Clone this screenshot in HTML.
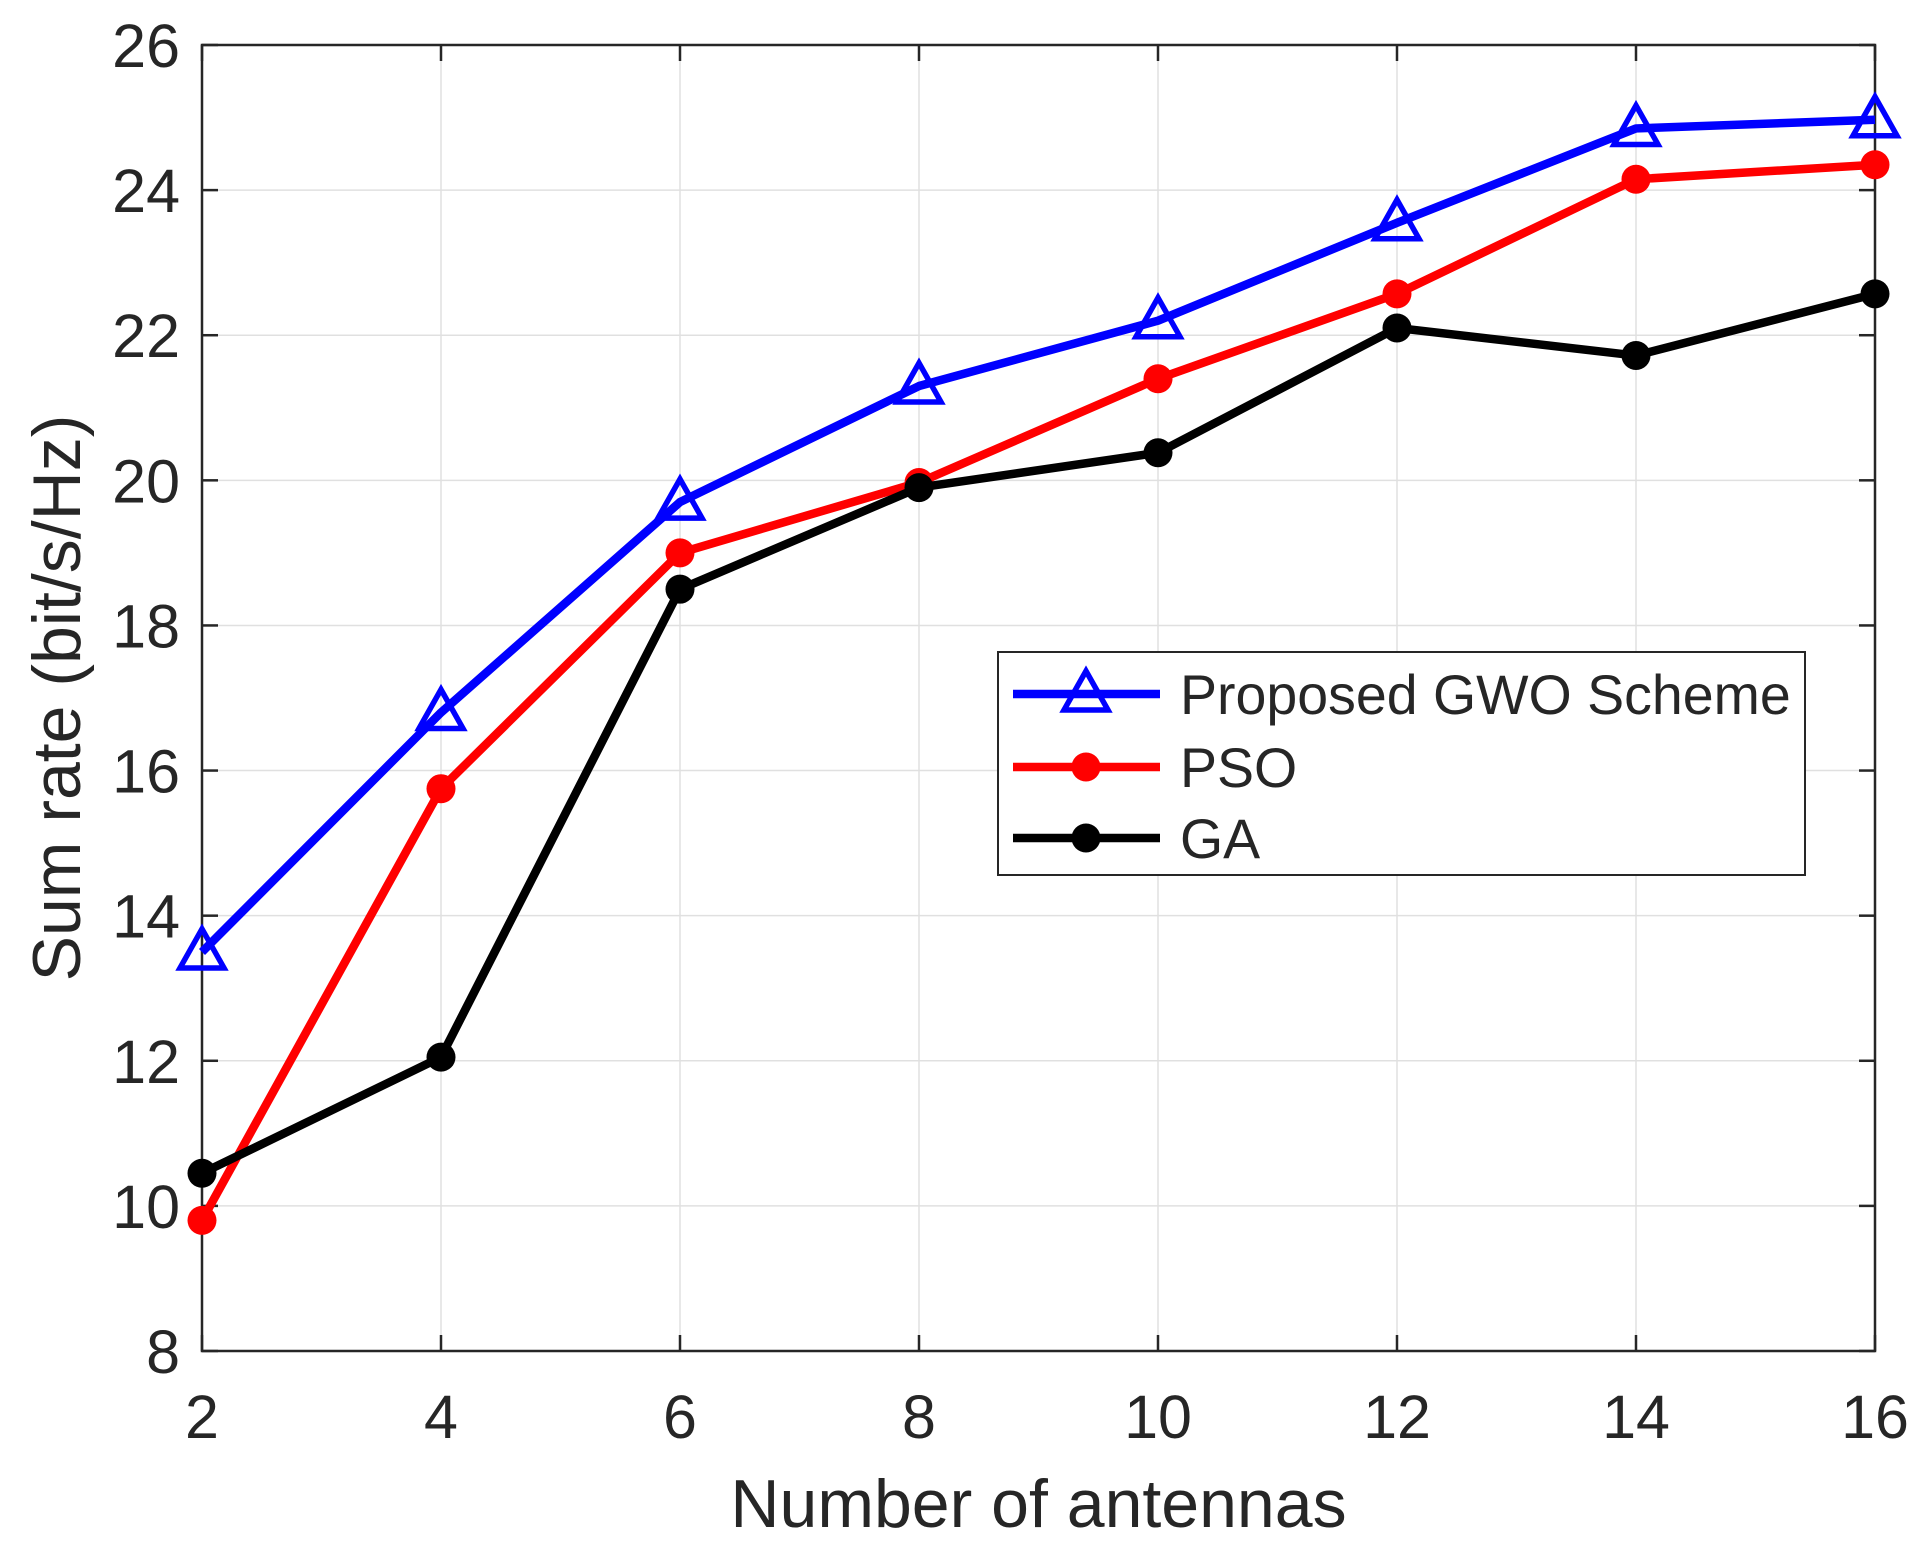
<!DOCTYPE html>
<html><head><meta charset="utf-8"><style>
html,body{margin:0;padding:0;background:#fff}
svg{display:block;font-family:"Liberation Sans",Arial,sans-serif}
</style></head><body>
<svg id="chart" width="1924" height="1560" viewBox="0 0 1924 1560"></svg>
<script>
const xCats=[2,4,6,8,10,12,14,16];
const gwo=[13.5,16.8,19.7,21.3,22.2,23.55,24.85,24.97];
const pso=[9.8,15.75,19.0,19.97,21.4,22.57,24.15,24.35];
const ga=[10.45,12.05,18.5,19.9,20.38,22.1,21.72,22.57];
const yTicks=[8,10,12,14,16,18,20,22,24,26];
const xTicks=[2,4,6,8,10,12,14,16];
const L=202,R=1875,T=45,B=1351;
const NS="http://www.w3.org/2000/svg";
const svg=document.getElementById('chart');
function X(v){return L+(v-2)/(16-2)*(R-L);}
function Y(v){return B-(v-8)/(26-8)*(B-T);}
function el(t,a,p){const e=document.createElementNS(NS,t);for(const k in a)e.setAttribute(k,a[k]);(p||svg).appendChild(e);return e;}
const grid=el('g',{});


xTicks.forEach(v=>{el('line',{x1:X(v),x2:X(v),y1:T,y2:B,stroke:'#e0e0e0','stroke-width':1.5},grid);});
yTicks.forEach(v=>{el('line',{x1:L,x2:R,y1:Y(v),y2:Y(v),stroke:'#e0e0e0','stroke-width':1.5},grid);});
const ax=el('g',{});


el('rect',{x:L,y:T,width:R-L,height:B-T,fill:'none',stroke:'#262626','stroke-width':2.5},ax);
xTicks.forEach(v=>{
 el('line',{x1:X(v),x2:X(v),y1:B,y2:B-16,stroke:'#262626','stroke-width':2.5},ax);
 el('line',{x1:X(v),x2:X(v),y1:T,y2:T+16,stroke:'#262626','stroke-width':2.5},ax);
 const t=el('text',{x:X(v),y:B+87,'text-anchor':'middle','font-size':61,fill:'#262626'},ax);t.textContent=v;
 
 
});
yTicks.forEach(v=>{
 el('line',{x1:L,x2:L+16,y1:Y(v),y2:Y(v),stroke:'#262626','stroke-width':2.5},ax);
 el('line',{x1:R,x2:R-16,y1:Y(v),y2:Y(v),stroke:'#262626','stroke-width':2.5},ax);
 const t=el('text',{x:L-22,y:Y(v)+22,'text-anchor':'end','font-size':61,fill:'#262626'},ax);t.textContent=v;
 
 
});
const xl=el('text',{x:(L+R)/2,y:1527,'text-anchor':'middle','font-size':68,fill:'#262626'});xl.textContent='Number of antennas';


const yl=el('text',{x:0,y:0,'text-anchor':'middle','font-size':68,fill:'#262626',transform:'translate(80,698) rotate(-90)'});yl.textContent='Sum rate (bit/s/Hz)';


function tri(g,cx,cy,c){el('polygon',{points:`${cx},${cy-23} ${cx-22},${cy+16} ${cx+22},${cy+16}`,fill:'none',stroke:c,'stroke-width':5.5},g);}
function circ(g,cx,cy,c){el('circle',{cx:cx,cy:cy,r:14.5,fill:c},g);}
function series(vals,c,mk,name){
 const g=el('g',{});
 
 
 el('polyline',{points:vals.map((v,i)=>X(xCats[i])+','+Y(v)).join(' '),fill:'none',stroke:c,'stroke-width':8.5,'stroke-linejoin':'round'},g);
 vals.forEach((v,i)=>mk(g,X(xCats[i]),Y(v),c));
}
series(gwo,'#0000ff',tri,'series-gwo');
series(pso,'#ff0000',circ,'series-pso');
series(ga,'#000000',circ,'series-ga');
const lg=el('g',{});


el('rect',{x:998,y:652,width:807,height:223,fill:'#fff',stroke:'#262626','stroke-width':2},lg);
[['Proposed GWO Scheme','#0000ff',tri,694],['PSO','#ff0000',circ,767],['GA','#000000',circ,838]].forEach(([n,c,mk,y])=>{
 const e=el('g',{},lg);
 
 
 el('line',{x1:1013,x2:1160,y1:y,y2:y,stroke:c,'stroke-width':8.5},e);
 mk(e,1086,y,c);
 const t=el('text',{x:1180,y:y+20,'font-size':55.5,fill:'#262626'},e);t.textContent=n;
});
</script>
</body></html>
